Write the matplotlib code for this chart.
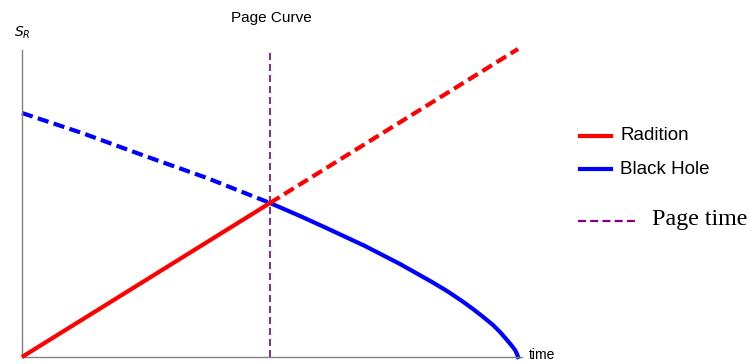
import matplotlib
matplotlib.use('Agg')
import matplotlib.pyplot as plt
from matplotlib.lines import Line2D

# values (time, entropy) in arbitrary units
page_time = 248
rad_t = [0, 248, 496]
rad_s = [0, 154, 308]
bh_t = [0, 60, 123, 185, 248, 278, 300, 328, 343, 378, 410, 425, 440, 451, 460,
        471, 478, 485, 490, 493, 495, 496]
bh_s = [244, 224, 201, 179, 154, 141, 131, 118, 111, 93, 75, 66, 56, 48, 41,
        32, 25, 17, 11, 7, 3, 0]

plt.rcParams['font.family'] = ['Liberation Sans', 'DejaVu Sans']
W, H = 750, 364
fig = plt.figure(figsize=(7.5, 3.64), dpi=100)
ax = fig.add_axes([22 / W, 7 / H, 500 / W, 307 / H])
ax.set_xlim(0, 500)
ax.set_ylim(0, 307)

dash = (0, (2.7, 1.3))
# radiation: solid before page time, dashed after
ax.plot(rad_t[:2], rad_s[:2], color='#ff0000', lw=3, solid_capstyle='butt', clip_on=False, zorder=3)
ax.plot(rad_t[1:], rad_s[1:], color='#ff0000', lw=3, ls=dash, clip_on=False, zorder=3)

# black hole: dashed before page time, solid after
i = bh_t.index(page_time)
ax.plot(bh_t[:i + 1], bh_s[:i + 1], color='#0000ff', lw=3, ls=dash, clip_on=False, zorder=2)
ax.plot(bh_t[i:], bh_s[i:], color='#0000ff', lw=3, solid_joinstyle='round', clip_on=False, zorder=2)

ax.axvline(page_time, color='#800080', lw=1.2, ls=(0, (4.2, 2.4)), zorder=1)

for side in ['top', 'right']:
    ax.spines[side].set_visible(False)
for side in ['left', 'bottom']:
    ax.spines[side].set_color('#808080')
    ax.spines[side].set_linewidth(1.0)
ax.set_xticks([])
ax.set_yticks([])

fig.text(271 / W, 1 - 18 / H, 'Page Curve', ha='center', va='center', fontsize=11)
fig.text(14 / W, 1 - 33 / H, r'$S_R$', ha='left', va='center', fontsize=10)
fig.text(529 / W, 1 - 355 / H, 'time', ha='left', va='center', fontsize=10)

# hand-placed legend
def legend_line(y, color, ls='-', lw=3):
    fig.add_artist(Line2D([580 / W, 611 / W], [1 - y / H, 1 - y / H], color=color, lw=lw, ls=ls))

legend_line(136, '#ff0000')
fig.text(620 / W, 1 - 136 / H, 'Radition', ha='left', va='center', fontsize=13.5)
legend_line(169, '#0000ff')
fig.text(620 / W, 1 - 169 / H, 'Black Hole', ha='left', va='center', fontsize=13.5)
fig.add_artist(Line2D([578 / W, 635 / W], [1 - 221 / H, 1 - 221 / H], color='#800080', lw=1.6,
                      ls=(0, (3.6, 1.9))))
fig.text(652 / W, 1 - 220 / H, 'Page time', ha='left', va='center', fontsize=17.3,
         family=['Liberation Serif', 'DejaVu Serif'])

fig.savefig('out.png', dpi=100)
